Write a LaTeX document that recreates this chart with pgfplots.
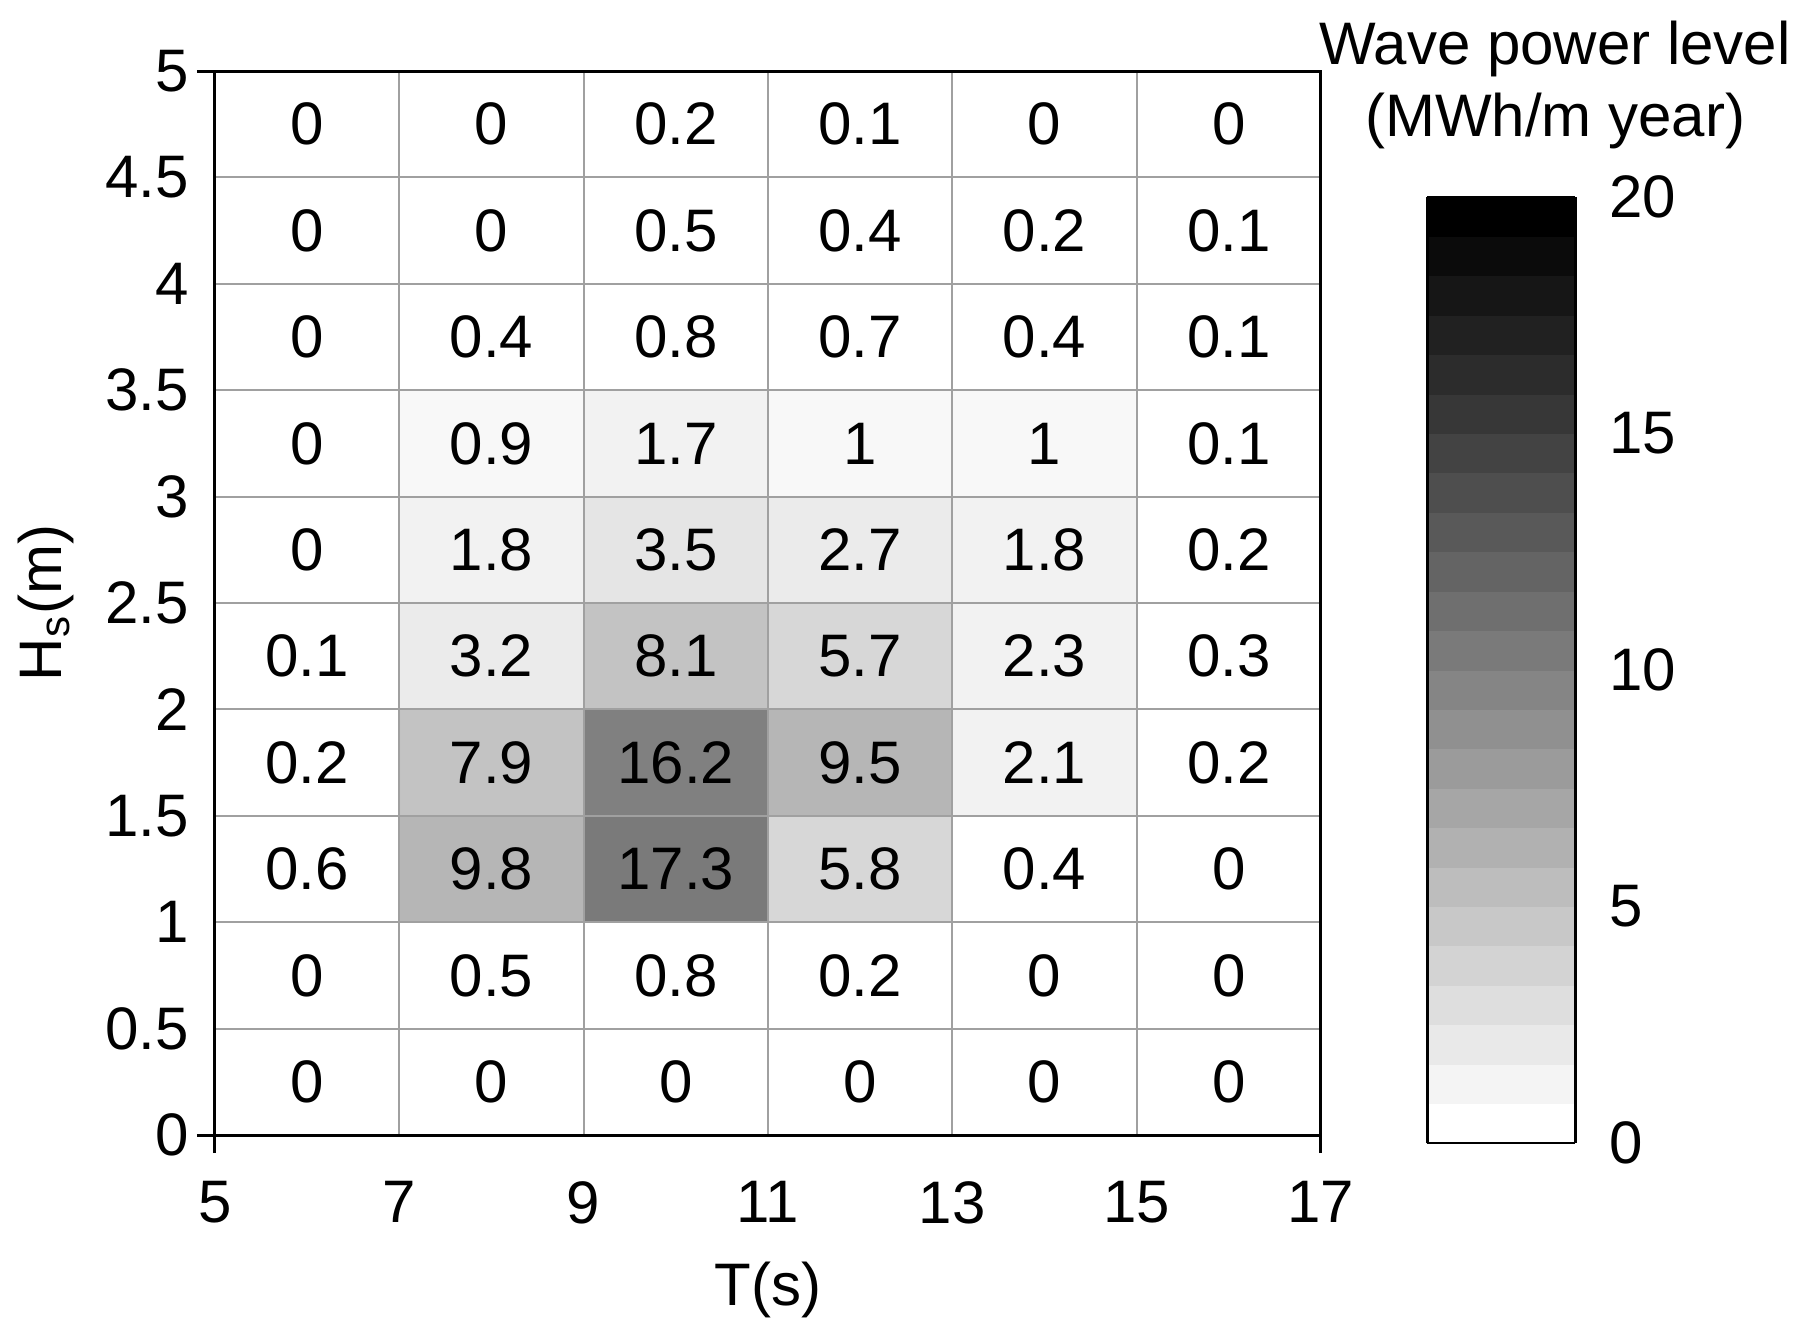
\documentclass[border=0pt]{standalone}
\usepackage{pgfplots}
\pgfplotsset{compat=1.18}
\usepackage{fontspec}
\setmainfont{Liberation Sans}
\newcommand\lbl{\fontsize{15}{18}\selectfont}

\pgfplotsset{
  /pgf/number format/assume math mode=true,
  tick label style={font=\lbl},
  label style={font=\lbl},
}

% value of each cell: T centre, Hs centre, power
\pgfplotstableread{
x  y    v
6  0.25 0
8  0.25 0
10 0.25 0
12 0.25 0
14 0.25 0
16 0.25 0
6  0.75 0
8  0.75 0.5
10 0.75 0.8
12 0.75 0.2
14 0.75 0
16 0.75 0
6  1.25 0.6
8  1.25 9.8
10 1.25 17.3
12 1.25 5.8
14 1.25 0.4
16 1.25 0
6  1.75 0.2
8  1.75 7.9
10 1.75 16.2
12 1.75 9.5
14 1.75 2.1
16 1.75 0.2
6  2.25 0.1
8  2.25 3.2
10 2.25 8.1
12 2.25 5.7
14 2.25 2.3
16 2.25 0.3
6  2.75 0
8  2.75 1.8
10 2.75 3.5
12 2.75 2.7
14 2.75 1.8
16 2.75 0.2
6  3.25 0
8  3.25 0.9
10 3.25 1.7
12 3.25 1
14 3.25 1
16 3.25 0.1
6  3.75 0
8  3.75 0.4
10 3.75 0.8
12 3.75 0.7
14 3.75 0.4
16 3.75 0.1
6  4.25 0
8  4.25 0
10 4.25 0.5
12 4.25 0.4
14 4.25 0.2
16 4.25 0.1
6  4.75 0
8  4.75 0
10 4.75 0.2
12 4.75 0.1
14 4.75 0
16 4.75 0
}\wavedata

\definecolor{gridgray}{RGB}{160,160,160}

\begin{document}
\begin{tikzpicture}
\path[use as bounding box] (0pt,0pt) rectangle (448.25pt,-335.25pt);
\begin{axis}[
  at={(53.75pt,-283.75pt)}, anchor=south west,
  scale only axis, width=276.5pt, height=266pt,
  xmin=5, xmax=17, ymin=0, ymax=5,
  xtick={5,7,9,11,13,15,17},
  ytick={0,0.5,1,1.5,2,2.5,3,3.5,4,4.5,5},
  xtick pos=bottom, ytick pos=left,
  major tick length=0pt,
  extra x ticks={5,17}, extra y ticks={0,5},
  extra x tick labels={}, extra y tick labels={},
  extra tick style={grid=none, major tick length=4.5pt, tick align=outside,
    tick style={line width=0.75pt, black}},
  grid=major,
  major grid style={gridgray, line width=0.5pt},
  axis line style={line width=0.75pt},
  axis on top,
  xticklabel style={yshift=-8pt},
  yticklabel style={xshift=-3pt},
  xlabel={T(s)},
  ylabel={H\textsubscript{s}(m)},
  every axis x label/.style={at={(axis description cs:0.5,-0.146)}, anchor=center, font=\lbl},
  every axis y label/.style={at={(axis description cs:-0.153,0.5)}, rotate=90, anchor=center, font=\lbl},
  colormap={wpl}{rgb255=(255,255,255) rgb255=(244,244,244) rgb255=(233,233,233)
    rgb255=(222,222,222) rgb255=(211,211,211) rgb255=(200,200,200)
    rgb255=(189,189,189) rgb255=(177,177,177) rgb255=(166,166,166)
    rgb255=(155,155,155) rgb255=(144,144,144) rgb255=(133,133,133)
    rgb255=(122,122,122) rgb255=(111,111,111) rgb255=(100,100,100)
    rgb255=(89,89,89) rgb255=(78,78,78) rgb255=(67,67,67)
    rgb255=(55,55,55) rgb255=(44,44,44) rgb255=(33,33,33)
    rgb255=(22,22,22) rgb255=(11,11,11) rgb255=(0,0,0)},
  colormap access=piecewise constant,
  point meta min=0, point meta max=20,
  colorbar,
  colorbar style={
    at={(parent axis.north east)}, anchor=north west,
    xshift=18pt, yshift=-31.5pt,
    scale only axis, width=37pt, height=236.5pt,
    ytick={0,5,10,15,20},
    major tick length=0pt,
    yticklabel style={font=\lbl, xshift=5pt},
    axis line style={line width=0.7pt},
    title={Wave power level\\(MWh/m year)},
    title style={at={(0.5,1)}, anchor=south, align=center, font=\lbl,
      xshift=13.5pt, yshift=2.5pt},
  },
]
\addplot[matrix plot*, mesh/cols=6, opacity=0.6, point meta=\thisrow{v}]
  table[x=x, y=y] {\wavedata};
\addplot[only marks, mark=none, nodes near coords, point meta=explicit symbolic,
  nodes near coords style={anchor=center, font=\lbl, text=black}]
  table[x=x, y=y, meta=v] {\wavedata};
\end{axis}
\end{tikzpicture}
\end{document}
